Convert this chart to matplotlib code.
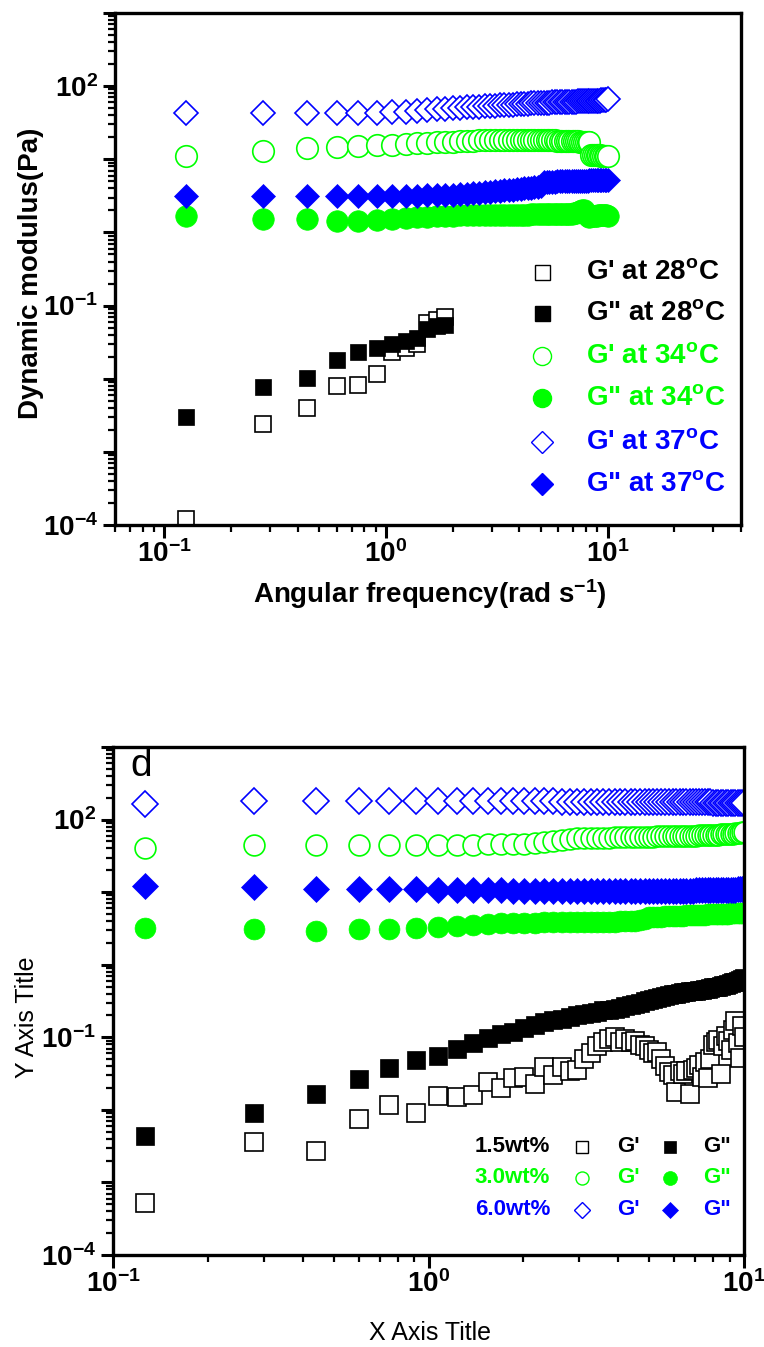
import numpy as np
import matplotlib.pyplot as plt
from matplotlib.ticker import LogLocator, FuncFormatter, NullFormatter

plt.rcParams['font.family'] = 'Liberation Sans'
plt.rcParams['mathtext.fontset'] = 'custom'
for k in ('rm', 'it', 'bf', 'sf'):
    plt.rcParams['mathtext.' + k] = 'Liberation Sans:bold'

BLUE = '#0000ff'
GREEN = '#00ff00'
BLACK = '#000000'

# angular frequency sweep (rad/s)
freq = [0.126, 0.28, 0.44, 0.60, 0.75, 0.91, 1.07, 1.23, 1.38, 1.54, 1.70, 1.85,
        2.01, 2.17, 2.32, 2.48, 2.64, 2.80, 2.95, 3.11, 3.27, 3.42, 3.58, 3.74, 3.90,
        4.05, 4.21, 4.37, 4.52, 4.68, 4.84, 4.99, 5.15, 5.31, 5.47, 5.62, 5.78, 5.94,
        6.09, 6.25, 6.41, 6.57, 6.72, 6.88, 7.04, 7.19, 7.35, 7.51, 7.67, 7.82, 7.98,
        8.14, 8.29, 8.45, 8.61, 8.76, 8.92, 9.08, 9.24, 9.39, 9.55, 9.71, 9.86, 10.02]

# ---- panel 1: temperature series ----
g1_28 = [1.2e-4, 2.4e-3, 4.0e-3, 7.9e-3, 8.3e-3, 1.17e-2, 2.29e-2, 2.63e-2,
         3.02e-2, 5.75e-2, 6.3e-2, 6.9e-2]
g2_28 = [3.0e-3, 7.6e-3, 1.02e-2, 1.82e-2, 2.34e-2, 2.63e-2, 3.02e-2, 3.31e-2,
         3.63e-2, 4.79e-2, 5.25e-2, 5.5e-2]
g1_34 = [11.0, 12.9, 14.1, 14.5, 15.0, 15.5, 15.8, 16.2,
         16.5, 16.8, 17.0, 17.2, 17.4, 17.6, 17.8, 18.0,
         18.1, 18.2, 18.3, 18.4, 18.4, 18.5, 18.5, 18.5,
         18.6, 18.6, 18.6, 18.5, 18.5, 18.5, 18.4, 18.4,
         18.3, 18.3, 18.2, 18.2, 18.1, 18.0, 18.0, 17.9,
         17.9, 17.8, 17.8, 17.7, 17.7, 17.6, 17.6, 17.5,
         17.5, 17.4, 17.4, 17.3, 17.3, 11.5, 11.5, 11.4,
         11.4, 11.3, 11.3, 11.2, 11.2, 11.1, 11.1, 11.0]
g2_34 = [1.66, 1.55, 1.55, 1.45, 1.43, 1.50, 1.55, 1.58,
         1.61, 1.64, 1.67, 1.70, 1.70, 1.71, 1.71, 1.72,
         1.72, 1.72, 1.73, 1.73, 1.73, 1.74, 1.74, 1.74,
         1.75, 1.75, 1.75, 1.75, 1.76, 1.76, 1.76, 1.76,
         1.77, 1.77, 1.77, 1.77, 1.78, 1.78, 1.78, 1.78,
         1.79, 1.79, 1.80, 1.81, 1.82, 1.84, 1.90, 1.98,
         2.05, 2.02, 1.80, 1.68, 1.65, 1.66, 1.68, 1.70,
         1.70, 1.71, 1.72, 1.72, 1.73, 1.73, 1.72, 1.70]
g1_37 = [42.7, 42.7, 42.7, 42.7, 43.0, 43.5, 44.0, 45.0,
         46.0, 47.0, 48.0, 49.0, 50.0, 51.0, 51.5, 52.0,
         52.5, 53.0, 53.5, 54.0, 54.5, 55.0, 55.5, 56.0,
         56.5, 57.0, 57.0, 57.5, 58.0, 58.0, 58.5, 59.0,
         59.0, 59.5, 59.5, 60.0, 60.0, 60.0, 60.5, 60.5,
         61.0, 61.0, 61.0, 61.5, 61.5, 61.5, 62.0, 62.0,
         62.0, 62.0, 62.5, 62.5, 62.5, 63.0, 63.0, 63.0,
         63.0, 63.5, 63.5, 64.0, 64.0, 64.5, 65.0, 67.0]
g2_37 = [3.10, 3.10, 3.10, 3.10, 3.10, 3.10, 3.12, 3.15,
         3.18, 3.20, 3.22, 3.25, 3.30, 3.35, 3.40, 3.45,
         3.50, 3.55, 3.60, 3.65, 3.70, 3.75, 3.80, 3.85,
         3.90, 3.95, 4.00, 4.05, 4.10, 4.15, 4.20, 4.25,
         4.85, 4.90, 4.90, 4.95, 4.95, 5.00, 5.00, 5.00,
         5.00, 5.00, 5.05, 5.05, 5.05, 5.05, 5.10, 5.10,
         5.10, 5.10, 5.10, 5.10, 5.15, 5.15, 5.15, 5.15,
         5.15, 5.20, 5.20, 5.20, 5.20, 5.20, 5.20, 5.20]
temp_labels = ["G' at 28$^{o}$C", 'G" at 28$^{o}$C', "G' at 34$^{o}$C",
               'G" at 34$^{o}$C', "G' at 37$^{o}$C", 'G" at 37$^{o}$C']

# ---- panel 2: concentration series ----
g1_15 = [5.2e-4, 3.63e-3, 2.69e-3, 7.41e-3, 1.17e-2, 9.1e-3, 1.55e-2, 1.51e-2,
         1.62e-2, 2.40e-2, 2.0e-2, 2.75e-2, 2.82e-2, 2.24e-2, 3.89e-2, 3.02e-2,
         3.89e-2, 3.39e-2, 3.55e-2, 5.01e-2, 6.03e-2, 7.59e-2, 8.71e-2, 9.55e-2,
         0.100, 8.71e-2, 9.33e-2, 8.51e-2, 8.91e-2, 7.94e-2, 7.59e-2, 6.61e-2,
         6.03e-2, 6.31e-2, 5.01e-2, 3.98e-2, 3.31e-2, 3.02e-2, 1.74e-2, 3.39e-2,
         3.16e-2, 3.47e-2, 1.66e-2, 3.55e-2, 3.80e-2, 4.17e-2, 2.82e-2, 4.57e-2,
         2.75e-2, 5.01e-2, 7.94e-2, 8.51e-2, 9.12e-2, 3.16e-2, 7.59e-2, 0.105,
         8.91e-2, 6.61e-2, 0.126, 0.166, 8.32e-2, 5.25e-2, 0.141, 0.100]
g2_15 = [4.3e-3, 9.1e-3, 1.66e-2, 2.63e-2, 3.76e-2, 4.84e-2, 5.6e-2, 6.9e-2,
         8.3e-2, 9.8e-2, 0.110, 0.120, 0.135, 0.148, 0.162, 0.174,
         0.180, 0.190, 0.200, 0.210, 0.219, 0.226, 0.234, 0.240,
         0.248, 0.257, 0.270, 0.280, 0.290, 0.300, 0.316, 0.325,
         0.335, 0.345, 0.355, 0.372, 0.380, 0.390, 0.400, 0.410,
         0.417, 0.420, 0.430, 0.435, 0.440, 0.447, 0.455, 0.465,
         0.470, 0.480, 0.490, 0.495, 0.500, 0.510, 0.520, 0.525,
         0.540, 0.555, 0.570, 0.585, 0.603, 0.620, 0.640, 0.660]
g1_30 = [41.0, 44.0, 45.0, 45.0, 45.0, 45.0, 45.0, 45.0,
         45.0, 45.5, 45.5, 45.5, 46.0, 47.0, 49.0, 51.0,
         53.0, 54.5, 55.5, 56.0, 56.0, 56.5, 56.5, 56.5,
         57.0, 57.0, 57.0, 57.5, 57.5, 57.5, 58.0, 58.0,
         58.0, 58.5, 58.5, 58.5, 59.0, 59.0, 59.0, 59.5,
         59.5, 59.5, 60.0, 60.0, 60.0, 60.5, 60.5, 61.0,
         61.0, 61.5, 61.5, 62.0, 62.0, 62.5, 62.5, 63.0,
         63.0, 63.5, 64.0, 64.5, 65.0, 66.0, 67.0, 68.0]
g2_30 = [3.24, 3.09, 2.95, 3.09, 3.15, 3.25, 3.35, 3.45,
         3.55, 3.62, 3.70, 3.75, 3.78, 3.80, 3.82, 3.84,
         3.85, 3.86, 3.87, 3.88, 3.89, 3.90, 3.91, 3.92,
         3.93, 3.94, 3.95, 3.96, 3.98, 4.10, 4.30, 4.50,
         4.55, 4.60, 4.60, 4.65, 4.65, 4.70, 4.70, 4.75,
         4.75, 4.80, 4.80, 4.85, 4.85, 4.90, 4.90, 4.90,
         4.95, 4.95, 4.95, 5.00, 5.00, 5.00, 5.05, 5.05,
         5.05, 5.10, 5.10, 5.10, 5.15, 5.15, 5.20, 5.20]
g1_60 = [166, 182, 182, 181, 180, 180, 179, 179,
         178, 178, 178, 178, 178, 178, 178, 178,
         177, 177, 177, 177, 177, 177, 177, 176,
         176, 176, 176, 176, 176, 175, 175, 175,
         175, 175, 175, 174, 174, 174, 174, 174,
         173, 173, 173, 173, 173, 172, 172, 172,
         172, 172, 171, 171, 171, 171, 170, 170,
         170, 170, 170, 169, 169, 169, 169, 168]
g2_60 = [12.3, 11.6, 11.2, 11.2, 11.0, 10.9, 10.8, 10.7,
         10.6, 10.6, 10.6, 10.5, 10.5, 10.5, 10.5, 10.5,
         10.5, 10.5, 10.5, 10.5, 10.5, 10.5, 10.5, 10.5,
         10.5, 10.5, 10.5, 10.5, 10.5, 10.5, 10.5, 10.5,
         10.5, 10.5, 10.5, 10.5, 10.5, 10.5, 10.5, 10.5,
         10.5, 10.5, 10.5, 10.5, 10.6, 10.6, 10.6, 10.6,
         10.6, 10.6, 10.6, 10.7, 10.7, 10.7, 10.7, 10.7,
         10.8, 10.8, 10.8, 10.8, 10.9, 10.9, 10.9, 11.0]
conc_labels = ['1.5wt%', '3.0wt%', '6.0wt%']


def decade_fmt(shown):
    def f(v, pos):
        e = int(round(np.log10(v)))
        return r'$\mathbf{10^{%d}}$' % e if e in shown else ''
    return FuncFormatter(f)


def style(ax, xlim, xshown):
    ax.set_xscale('log')
    ax.set_yscale('log')
    ax.set_xlim(*xlim)
    ax.set_ylim(1e-4, 1e3)
    for s in ax.spines.values():
        s.set_linewidth(2.4)
    for axis in (ax.xaxis, ax.yaxis):
        axis.set_major_locator(LogLocator(base=10, numticks=20))
        axis.set_minor_locator(LogLocator(base=10, subs=np.arange(2, 10), numticks=20))
        axis.set_minor_formatter(NullFormatter())
    ax.xaxis.set_major_formatter(decade_fmt(xshown))
    ax.yaxis.set_major_formatter(decade_fmt({-4, -1, 2}))
    ax.tick_params(which='major', direction='out', length=9, width=2.2,
                   labelsize=20, top=False, right=False)
    ax.tick_params(which='minor', direction='out', length=5, width=1.6,
                   top=False, right=False)
    ax.tick_params(axis='x', which='major', pad=2)
    ax.tick_params(axis='y', which='major', pad=3)


def open_pts(ax, x, y, m, c, ms):
    ax.plot(x, y, ls='none', marker=m, ms=ms, mfc='white', mec=c, mew=1.2)


def full_pts(ax, x, y, m, c, ms):
    ax.plot(x, y, ls='none', marker=m, ms=ms, mfc=c, mec=c, mew=0.5)


fig = plt.figure(figsize=(7.64, 13.47), dpi=100)

# ---------------- top panel ----------------
ax1 = fig.add_axes([115 / 764, 1 - 525 / 1347, 626 / 764, 512 / 1347])
style(ax1, (0.06, 40), {-1, 0, 1})

n28 = len(g1_28)
open_pts(ax1, freq[:n28], g1_28, 's', BLACK, 12)
full_pts(ax1, freq[:n28], g2_28, 's', BLACK, 12)
open_pts(ax1, freq, g1_34, 'o', GREEN, 15.5)
full_pts(ax1, freq, g2_34, 'o', GREEN, 15.5)
open_pts(ax1, freq, g1_37, 'D', BLUE, 12)
full_pts(ax1, freq, g2_37, 'D', BLUE, 12)

leg_style = [('s', BLACK, False, 10.8), ('s', BLACK, True, 10.8),
             ('o', GREEN, False, 13), ('o', GREEN, True, 13),
             ('D', BLUE, False, 11.5), ('D', BLUE, True, 11.5)]
rows1 = [0.494, 0.414, 0.330, 0.248, 0.162, 0.080]
for (m, c, filled, ms), lab, yy in zip(leg_style, temp_labels, rows1):
    ax1.plot([0.682], [yy], transform=ax1.transAxes, ls='none', marker=m, ms=ms,
             mfc=c if filled else 'white', mec=c, mew=1.0, clip_on=False)
    ax1.text(0.752, yy, lab, transform=ax1.transAxes, color=c, fontsize=20,
             fontweight='bold', va='center', ha='left')

fig.text(31 / 764, 1 - 273 / 1347, 'Dynamic modulus(Pa)', rotation=90,
         fontsize=20, fontweight='bold', ha='center', va='center')
fig.text(430 / 764, 1 - 594 / 1347, r'Angular frequency(rad s$^{-1}$)',
         fontsize=20, fontweight='bold', ha='center', va='center')

# ---------------- bottom panel ----------------
ax2 = fig.add_axes([113 / 764, 1 - 1255 / 1347, 631 / 764, 508 / 1347])
style(ax2, (0.1, 10), {-1, 0, 1})

open_pts(ax2, freq, g1_15, 's', BLACK, 13.5)
full_pts(ax2, freq, g2_15, 's', BLACK, 13.5)
open_pts(ax2, freq, g1_30, 'o', GREEN, 15)
full_pts(ax2, freq, g2_30, 'o', GREEN, 15)
open_pts(ax2, freq, g1_60, 'D', BLUE, 13)
full_pts(ax2, freq, g2_60, 'D', BLUE, 13)

ax2.text(0.028, 0.998, 'd', transform=ax2.transAxes, fontsize=28,
         ha='left', va='top')

conc_style = [('s', BLACK, 8, 8), ('o', GREEN, 9.4, 10), ('D', BLUE, 8.5, 8.5)]
rows2 = [0.2126, 0.1516, 0.0886]
for (m, c, ms_o, ms_f), lab, yy in zip(conc_style, conc_labels, rows2):
    ax2.text(0.693, yy, lab, transform=ax2.transAxes, color=c, fontsize=16,
             fontweight='bold', ha='right', va='center')
    ax2.plot([0.743], [yy], transform=ax2.transAxes, ls='none', marker=m, ms=ms_o,
             mfc='white', mec=c, mew=1.0, clip_on=False)
    ax2.text(0.799, yy, "G'", transform=ax2.transAxes, color=c, fontsize=16,
             fontweight='bold', ha='left', va='center')
    ax2.plot([0.883], [yy], transform=ax2.transAxes, ls='none', marker=m, ms=ms_f,
             mfc=c, mec=c, mew=0.5, clip_on=False)
    ax2.text(0.935, yy, 'G"', transform=ax2.transAxes, color=c, fontsize=16,
             fontweight='bold', ha='left', va='center')

fig.text(27 / 764, 1 - 1017 / 1347, 'Y Axis Title', rotation=90, fontsize=18,
         ha='center', va='center')
fig.text(430 / 764, 1 - 1333 / 1347, 'X Axis Title', fontsize=18,
         ha='center', va='center')

fig.savefig('out.png', dpi=100)
